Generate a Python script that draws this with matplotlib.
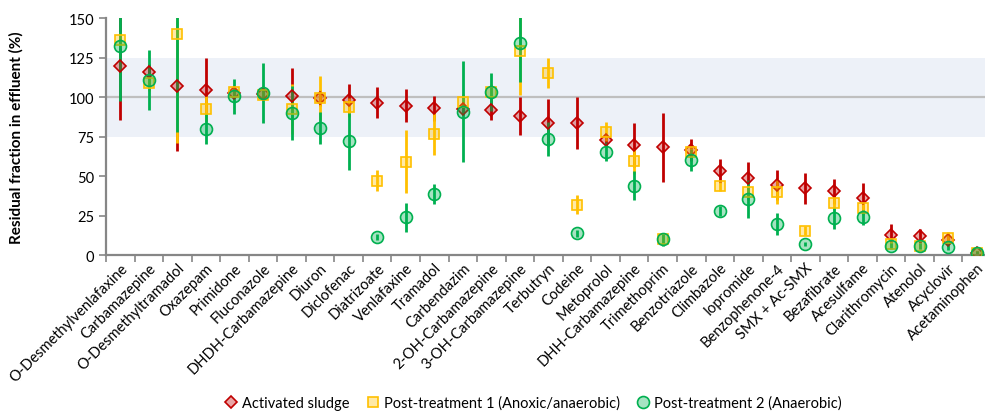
import matplotlib
matplotlib.use("Agg")
import matplotlib.pyplot as plt
import numpy as np

plt.rcParams['font.family'] = ['Lato', 'DejaVu Sans']

compounds = ["O-Desmethylvenlafaxine", "Carbamazepine", "O-Desmethyltramadol", "Oxazepam",
             "Primidone", "Fluconazole", "DHDH-Carbamazepine", "Diuron", "Diclofenac",
             "Diatrizoate", "Venlafaxine", "Tramadol", "Carbendazim", "2-OH-Carbamazepine",
             "3-OH-Carbamazepine", "Terbutryn", "Codeine", "Metoprolol", "DHH-Carbamazepine",
             "Trimethoprim", "Benzotriazole", "Climbazole", "Iopromide", "Benzophenone-4",
             "SMX + Ac-SMX", "Bezafibrate", "Acesulfame", "Clarithromycin", "Atenolol",
             "Acyclovir", "Acetaminophen"]

# Activated sludge
as_val = [119.6, 115.6, 107, 104.6, 102.3, 102, 100.4, 99.2, 98, 96.4, 94.5, 92.8, 92.4, 92,
          88, 83.8, 83.5, 73, 69.6, 68.1, 66.5, 53.2, 48.5, 44.3, 42.2, 40.3, 36, 12.9, 12.2,
          9.7, 1.3]
as_err = [34, 5, 41, 20, 3, 3, 18, 5, 10, 10, 10.5, 8, 4, 6.5, 12, 15, 16.5, 3, 14, 22, 7,
          7.6, 10.5, 9.5, 9.7, 8, 9.5, 6.7, 4.3, 3, 1]

# Post-treatment 1 (Anoxic/anaerobic)
pt1_val = [136, 108.6, 139.7, 92.6, 103, 101.5, 92.4, 99.6, 93.5, 47, 59, 76.6, 96.6, 103.4,
           129.3, 115, 31.9, 78, 59.3, 10, 65, 43.5, 40, 40, 15.4, 32.7, 29.5, 7, 5.9, 10.5, 1.3]
pt1_err = [5, 5, 69, 8, 3, 3, 16, 14, 6, 6.7, 20, 13.5, 5, 5, 28, 9.5, 6, 6, 8, 3, 3, 3, 5,
           8, 3, 4, 4, 2, 2, 4, 1]

# Post-treatment 2 (Anaerobic)
pt2_val = [132.5, 110.8, 160, 80, 100.4, 102.5, 90, 80.4, 72, 11.2, 23.8, 38.6, 90.7, 103.4,
           134.2, 73.4, 13.7, 65.4, 43.9, 10, 60, 27.8, 35.4, 19.6, 7, 23.2, 23.8, 5.9, 5.5,
           4.9, 1.3]
pt2_err = [35, 19, 82, 10, 11, 19, 17, 10, 18, 2, 9, 6.5, 32, 12, 25, 11, 2, 6, 9, 4, 7, 3,
           12, 7, 1.5, 7, 5, 2, 2, 2, 1]

x = np.arange(len(compounds))

fig = plt.figure(figsize=(9.85, 4.14), dpi=100)
ax = fig.add_axes([0.1076, 0.3816, 0.8985, 0.5725])

ax.axhspan(75, 125, color='#edf1f8', zorder=0, lw=0)
ax.axhline(100, color='#bfbfbf', lw=1.6, zorder=1)

series = [
    (as_val, as_err, '#c00000', 'D', 6.3, "Activated sludge"),
    (pt1_val, pt1_err, '#ffc000', 's', 7.5, "Post-treatment 1 (Anoxic/anaerobic)"),
    (pt2_val, pt2_err, '#00b050', 'o', 8.6, "Post-treatment 2 (Anaerobic)"),
]

for vals, errs, col, mk, ms, lab in series:
    ax.errorbar(x, vals, yerr=errs, fmt='none', ecolor=col, elinewidth=2, capsize=0, zorder=2)

handles = []
for vals, errs, col, mk, ms, lab in series:
    h, = ax.plot(x, vals, linestyle='none', marker=mk, markersize=ms,
                 markerfacecolor=matplotlib.colors.to_rgba(col, 0.35),
                 markeredgecolor=col, markeredgewidth=1.2, zorder=3, label=lab)
    handles.append(h)

ax.set_xlim(-0.5, len(compounds) - 0.5)
ax.set_ylim(0, 150)
ax.set_yticks([0, 25, 50, 75, 100, 125, 150])
ax.tick_params(axis='y', labelsize=10.5, length=5, width=1.2, color='#868686')

ax.set_xticks(np.arange(-0.5, len(compounds), 1))
ax.set_xticklabels([])
ax.tick_params(axis='x', which='major', length=5, width=1.2, color='#868686')
ax.set_xticks(x, minor=True)
ax.set_xticklabels(compounds, minor=True, rotation=45, ha='right', rotation_mode='anchor',
                   fontsize=10.5)
ax.tick_params(axis='x', which='minor', length=0, pad=4)

for s in ['top', 'right']:
    ax.spines[s].set_visible(False)
for s in ['left', 'bottom']:
    ax.spines[s].set_color('#868686')
    ax.spines[s].set_linewidth(1.6)

ax.set_ylabel('Residual fraction in effluent (%)', fontsize=11, fontweight='bold')
ax.yaxis.set_label_coords(-0.093, 0.5)

fig.legend(handles=handles, loc='center', bbox_to_anchor=(0.54, 0.025), ncol=3, frameon=False,
           fontsize=10.5, handletextpad=0.15, columnspacing=1.0, handlelength=1.2)

fig.savefig('out.png', dpi=100)
